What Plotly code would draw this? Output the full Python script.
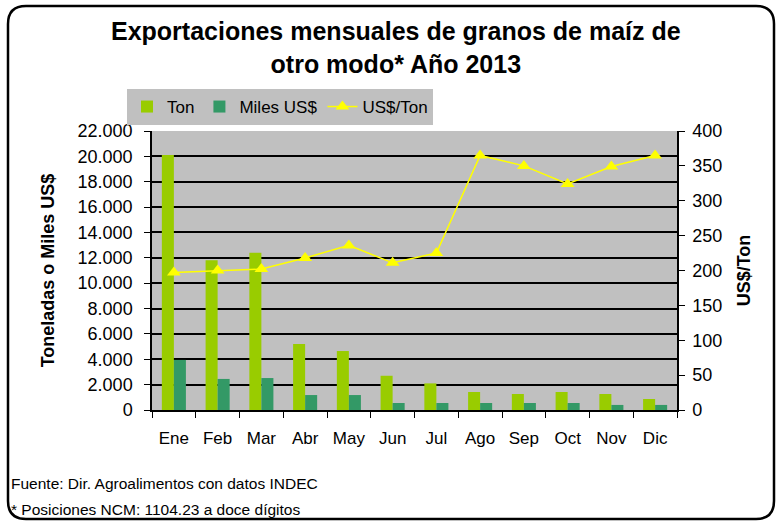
import plotly.graph_objects as go

meses = ["Ene", "Feb", "Mar", "Abr", "May", "Jun", "Jul", "Ago", "Sep", "Oct", "Nov", "Dic"]
ton = [20100, 11800, 12400, 5200, 4650, 2700, 2100, 1420, 1260, 1420, 1260, 870]
miles_usd = [3950, 2450, 2520, 1180, 1180, 550, 550, 550, 550, 550, 400, 400]
usd_ton = [197, 200, 202, 218, 236, 211, 225, 365, 350, 324, 349, 365]

FONT = "Liberation Sans, Arial, sans-serif"
L, R, T, B = 152, 677, 131, 410
W, H = 779, 523

fig = go.Figure()
fig.add_trace(go.Bar(x=meses, y=ton, name="Ton", marker=dict(color="#99CC00", line=dict(width=0))))
fig.add_trace(go.Bar(x=meses, y=miles_usd, name="Miles US$", marker=dict(color="#339966", line=dict(width=0))))
fig.add_trace(go.Scatter(x=meses, y=usd_ton, name="US$/Ton", yaxis="y2", mode="lines+markers",
                         line=dict(color="#FFFF00", width=1.5),
                         marker=dict(symbol="triangle-up", size=12, color="#FFFF00")))

def px(x): return (x - L) / (R - L)
def py(y): return (B - y) / (B - T)

fig.update_layout(
    width=W, height=H,
    paper_bgcolor="white", plot_bgcolor="#C0C0C0",
    separators=",.",
    font=dict(family=FONT, size=17, color="black"),
    margin=dict(l=L, r=W - R, t=T, b=H - B, autoexpand=False),
    barmode="group", bargap=0.45, bargroupgap=0,
    legend=dict(orientation="h", x=px(280), xanchor="center", y=py(107),
                yanchor="middle", bgcolor="#C0C0C0", font=dict(size=17), itemwidth=30,
                traceorder="normal", tracegroupgap=0),
    xaxis=dict(range=[-0.5, 11.5], showline=True, linecolor="black", linewidth=1.5, ticks="outside",
               tickson="boundaries", ticklen=6, tickcolor="black", tickfont=dict(size=17),
               showgrid=False, ticklabelstandoff=12, tickangle=0, automargin=False),
    yaxis=dict(range=[0, 22000], dtick=2000, tickformat=",d", showline=True, linecolor="black", linewidth=1.5,
               ticks="outside", ticklen=6, tickcolor="black", gridcolor="black", gridwidth=1.5,
               tickfont=dict(size=18), zeroline=False, ticklabelstandoff=8, automargin=False,
               title=dict(text="<b>Toneladas o Miles US$</b>", font=dict(size=18), standoff=18)),
    yaxis2=dict(range=[0, 400], dtick=50, overlaying="y", side="right", showline=True, linecolor="black",
                linewidth=1.5, ticks="outside", ticklen=6, tickcolor="black", showgrid=False, zeroline=False,
                tickfont=dict(size=18), ticklabelstandoff=4, automargin=False,
                title=dict(text="<b>US$/Ton</b>", font=dict(size=18), standoff=16)),
)

fig.add_annotation(text="<b>Exportaciones mensuales de granos de maíz de<br>otro modo* Año 2013</b>",
                   xref="paper", yref="paper", x=px(396), y=py(47), xanchor="center", yanchor="middle",
                   showarrow=False, font=dict(size=25), align="center")
fig.add_annotation(text="Fuente: Dir. Agroalimentos con datos INDEC", xref="paper", yref="paper",
                   x=px(9), y=py(483), xanchor="left", yanchor="middle", showarrow=False,
                   font=dict(size=15.5))
fig.add_annotation(text="* Posiciones NCM: 1104.23 a doce dígitos", xref="paper", yref="paper",
                   x=px(9), y=py(509), xanchor="left", yanchor="middle", showarrow=False,
                   font=dict(size=15.5))

# rounded outer border
x0, y0, x1, y1, r = 8, 6, 774, 519, 18
path = (f"M {px(x0+r)},{py(y0)} L {px(x1-r)},{py(y0)} Q {px(x1)},{py(y0)} {px(x1)},{py(y0+r)} "
        f"L {px(x1)},{py(y1-r)} Q {px(x1)},{py(y1)} {px(x1-r)},{py(y1)} "
        f"L {px(x0+r)},{py(y1)} Q {px(x0)},{py(y1)} {px(x0)},{py(y1-r)} "
        f"L {px(x0)},{py(y0+r)} Q {px(x0)},{py(y0)} {px(x0+r)},{py(y0)} Z")
fig.add_shape(type="path", path=path, xref="paper", yref="paper", line=dict(color="black", width=2.5))

fig.write_html("out.html", config={"displayModeBar": False},
               post_script="document.body.style.margin='0';document.body.style.overflow='hidden';")
